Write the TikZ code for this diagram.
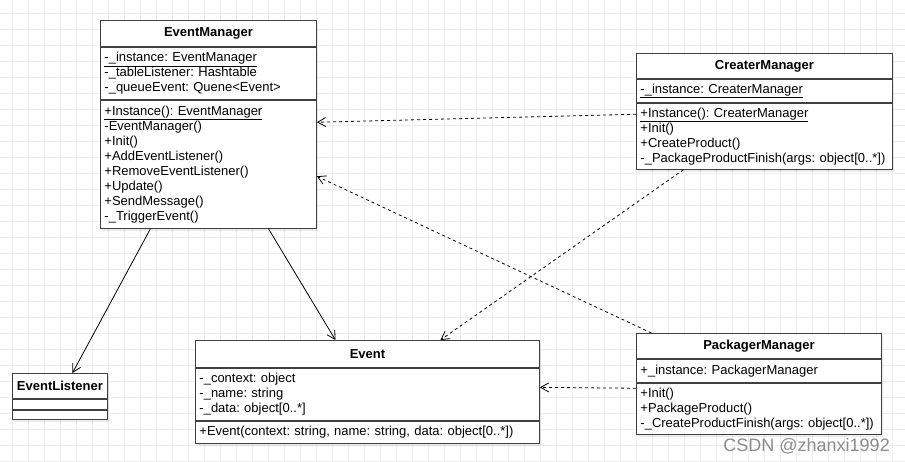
\documentclass[tikz,border=0pt]{standalone}
\usepackage{fontspec}
\setmainfont{Liberation Sans}
\usetikzlibrary{positioning,arrows.meta,shadows}
\frenchspacing

\begin{document}
\begin{tikzpicture}[
  x=1pt, y=-1pt,
  gridline/.style={%
    draw=black!7,%
    line width=0.6pt%
  },
  classbox/.style={%
    rectangle,%
    draw=black!75,
    fill=white,
    line width=0.9pt,
    inner xsep=4pt,
    inner ysep=0pt,
    drop shadow={shadow xshift=2pt,shadow yshift=-3pt,fill=black,opacity=0.08}%
  },
  classname/.style={%
    classbox,%
    font=\fontsize{13}{15}\selectfont\bfseries,
    anchor=north west%
  },
  classpart/.style={%
    classbox,%
    font=\fontsize{13}{15}\selectfont,
    align=left%
  },
  assoc/.style={-{Straight Barb[length=8pt,width=9pt]}, line width=0.8pt},
  depend/.style={assoc, dash pattern=on 3pt off 3pt}
]

  \useasboundingbox (0,0) rectangle (905,461);
  \fill[white] (0,0) rectangle (905,461);
  \foreach \gx in {12,28,...,908} \draw[gridline] (\gx,0) -- (\gx,461);
  \foreach \gy in {13,29,...,461} \draw[gridline] (0,\gy) -- (905,\gy);

  % EventManager
  \node [classname, minimum width=216pt, minimum height=26pt] (em-t) at (100,20) {EventManager};
  \node [classpart, text width=208pt, minimum height=52pt, below=0pt of em-t] (em-a)
    {\underline{-\_instance: EventManager}\\-\_tableListener: Hashtable\\-\_queueEvent: Quene<Event>};
  \node [classpart, text width=208pt, minimum height=128pt, below=0pt of em-a] (em-m)
    {\underline{+Instance(): EventManager}\\-EventManager()\\+Init()\\+AddEventListener()\\+RemoveEventListener()\\+Update()\\+SendMessage()\\-\_TriggerEvent()};

  % CreaterManager
  \node [classname, minimum width=256pt, minimum height=25pt] (cm-t) at (636,53) {CreaterManager};
  \node [classpart, text width=248pt, minimum height=23pt, below=0pt of cm-t] (cm-a)
    {\underline{-\_instance: CreaterManager}};
  \node [classpart, text width=248pt, minimum height=66pt, below=0pt of cm-a] (cm-m)
    {\underline{+Instance(): CreaterManager}\\+Init()\\+CreateProduct()\\-\_PackageProductFinish(args: object[0..*])};

  % PackagerManager
  \node [classname, minimum width=245pt, minimum height=25pt] (pm-t) at (636,333) {PackagerManager};
  \node [classpart, text width=237pt, minimum height=23pt, below=0pt of pm-t] (pm-a)
    {+\_instance: PackagerManager};
  \node [classpart, text width=237pt, minimum height=51pt, below=0pt of pm-a] (pm-m)
    {+Init()\\+PackageProduct()\\-\_CreateProductFinish(args: object[0..*])};

  % Event
  \node [classname, minimum width=344pt, minimum height=27pt] (ev-t) at (195,340) {Event};
  \node [classpart, text width=336pt, minimum height=52pt, below=0pt of ev-t] (ev-a)
    {-\_context: object\\-\_name: string\\-\_data: object[0..*]};
  \node [classpart, text width=336pt, minimum height=22pt, below=0pt of ev-a] (ev-m)
    {+Event(context: string, name: string, data: object[0..*])};

  % EventListener
  \node [classname, minimum width=95pt, minimum height=25pt] (el-t) at (12,373) {EventListener};
  \node [classpart, text width=87pt, minimum height=10pt, below=0pt of el-t] (el-a) {};
  \node [classpart, text width=87pt, minimum height=9pt, below=0pt of el-a] (el-m) {};

  \draw[assoc] ([xshift=-58pt]em-m.south) -- ([xshift=12.5pt]el-t.north);
  \draw[assoc] ([xshift=60pt]em-m.south) -- ([xshift=-32pt]ev-t.north);
  \draw[depend] ([yshift=22pt]cm-m.west) -- ([yshift=42pt]em-m.east);
  \draw[depend] ([xshift=-81pt]cm-m.south) -- ([xshift=73pt]ev-t.north);
  \draw[depend] ([xshift=-107.5pt]pm-t.north) -- ([yshift=-12pt]em-m.east);
  \draw[depend] ([yshift=20.5pt]pm-m.west) -- ([yshift=7pt]ev-a.east);

  \node [font=\fontsize{18}{18}\selectfont, text=black!45, anchor=base east, inner sep=0pt] (mark) at (890,451) {CSDN @zhanxi1992};

\end{tikzpicture}
\end{document}
